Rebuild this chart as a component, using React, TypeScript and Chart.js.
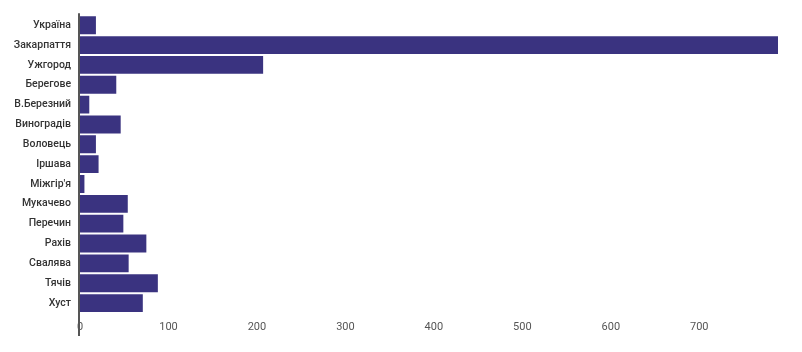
import React, { useEffect, useRef } from "react";
import { Chart, registerables } from "chart.js";

Chart.register(...registerables);

const categories = [
  "Україна",
  "Закарпаття",
  "Ужгород",
  "Берегове",
  "В.Березний",
  "Виноградів",
  "Воловець",
  "Іршава",
  "Міжгір'я",
  "Мукачево",
  "Перечин",
  "Рахів",
  "Свалява",
  "Тячів",
  "Хуст",
];

const values = [18, 789, 207, 41, 10.5, 46, 18, 21, 5, 54, 49, 75, 55, 88, 71];

const xTickValues = [0, 100, 200, 300, 400, 500, 600, 700];
const xMax = 789;

const axisLinePlugin = {
  id: "axisLine",
  afterDraw(chart: any) {
    const { ctx, chartArea } = chart;
    ctx.save();
    ctx.strokeStyle = "#555555";
    ctx.lineWidth = 2;
    ctx.beginPath();
    ctx.moveTo(chartArea.left - 1, chartArea.top - 2);
    ctx.lineTo(chartArea.left - 1, chartArea.bottom + 23);
    ctx.stroke();
    ctx.restore();
  },
};

export default function App() {
  const ref = useRef<HTMLCanvasElement | null>(null);

  useEffect(() => {
    if (!ref.current) return;
    const chart = new Chart(ref.current, {
      type: "bar",
      data: {
        labels: categories,
        datasets: [
          {
            data: values,
            backgroundColor: "#3a3380",
            borderWidth: 0,
            barPercentage: 0.9,
            categoryPercentage: 1,
          },
        ],
      },
      options: {
        indexAxis: "y",
        animation: false,
        responsive: true,
        maintainAspectRatio: false,
        layout: { padding: { top: 12, right: 24, bottom: 0, left: 0 } },
        plugins: {
          legend: { display: false },
          tooltip: { enabled: false },
        },
        scales: {
          x: {
            min: 0,
            max: xMax,
            grid: { display: false, drawTicks: false },
            border: { display: false },
            afterBuildTicks: (scale: any) => {
              scale.ticks = xTickValues.map((v) => ({ value: v }));
            },
            afterFit: (scale: any) => {
              scale.height = 39;
            },
            ticks: {
              padding: 8,
              color: "#555555",
              font: { family: "Roboto", size: 11 },
              maxRotation: 0,
            },
          },
          y: {
            grid: { display: false, drawTicks: false },
            border: { display: false },
            afterFit: (scale: any) => {
              scale.width = 80;
            },
            ticks: {
              padding: 9,
              color: "#333333",
              font: { family: "Roboto", size: 10.5, weight: 500 },
              autoSkip: false,
            },
          },
        },
      },
      plugins: [axisLinePlugin],
    });
    return () => chart.destroy();
  }, []);

  return (
    <div style={{ position: "fixed", left: 0, top: 0, width: 802, height: 352, background: "#fff" }}>
      <canvas ref={ref} />
    </div>
  );
}
